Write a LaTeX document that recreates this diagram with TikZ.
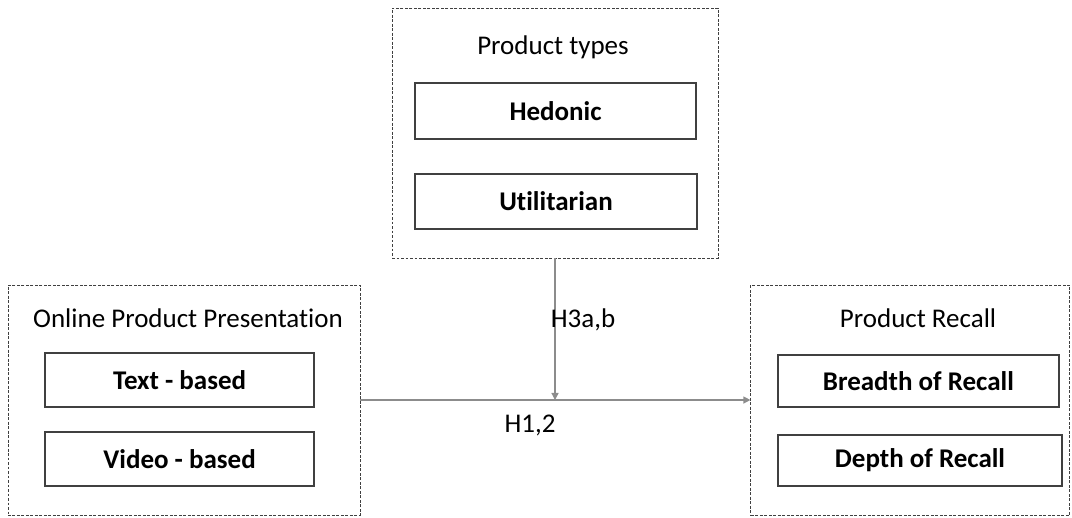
\documentclass[tikz,border=0pt]{standalone}
\usepackage{fontspec}
\setmainfont{Carlito}[Ligatures=NoCommon]
\usetikzlibrary{arrows.meta}
\begin{document}
\begin{tikzpicture}[
		groupbox/.style={draw=black!75,line width=0.7pt,dash pattern=on 2pt off 1.2pt,minimum width=#1},
		itembox/.style={draw=black!75,line width=0.9pt,minimum width=#1,font=\fontsize{19.2}{22}\selectfont\bfseries},
		title/.style={font=\fontsize{19.2}{23}\selectfont},
		link/.style={draw=black!45,line width=0.9pt,-{Triangle[length=5pt,width=5pt]}}
	]
	\useasboundingbox (0,0) rectangle (26.8,-12.925);
	%			Product types
	\node[groupbox=8.15cm,minimum height=6.25cm] (types) at (13.875,-3.325) {};
	\node[title] (typestitle) at (13.825,-1.175) {Product types};
	\node[itembox=7.025cm,minimum height=1.4cm] (hedonic) at (13.89,-2.775) {Hedonic};
	\node[itembox=7.05cm,minimum height=1.375cm] (utilitarian) at (13.9,-5.04) {Utilitarian};
	%			Presentation
	\node[groupbox=8.8cm,minimum height=5.75cm] (present) at (4.6,-10.0) {};
	\node[title] (presenttitle) at (4.7,-7.95) {Online Product Presentation};
	\node[itembox=6.725cm,minimum height=1.35cm] (textbased) at (4.49,-9.5) {Text - based};
	\node[itembox=6.725cm,minimum height=1.35cm] (videobased) at (4.49,-11.475) {Video - based};
	%			Recall
	\node[groupbox=7.975cm,minimum height=5.75cm] (recall) at (22.76,-10.0) {};
	\node[title] (recalltitle) at (22.95,-7.95) {Product Recall};
	\node[itembox=7.025cm,minimum height=1.3cm] (breadth) at (22.96,-9.525) {Breadth of Recall};
	\node[itembox=7.1cm,minimum height=1.275cm] (depth) at (23.0,-11.51) {Depth of Recall};
	%			Arrows
	\coordinate (meet) at (types.south |- present.east);
	\draw[link] (present.east) -- (recall.west);
	\draw[link] (types.south) -- (meet);
	\node[title] (h3) at (14.575,-8.0) {H3a,b};
	\node[title] (h12) at (13.25,-10.625) {H1,2};
\end{tikzpicture}
\end{document}
